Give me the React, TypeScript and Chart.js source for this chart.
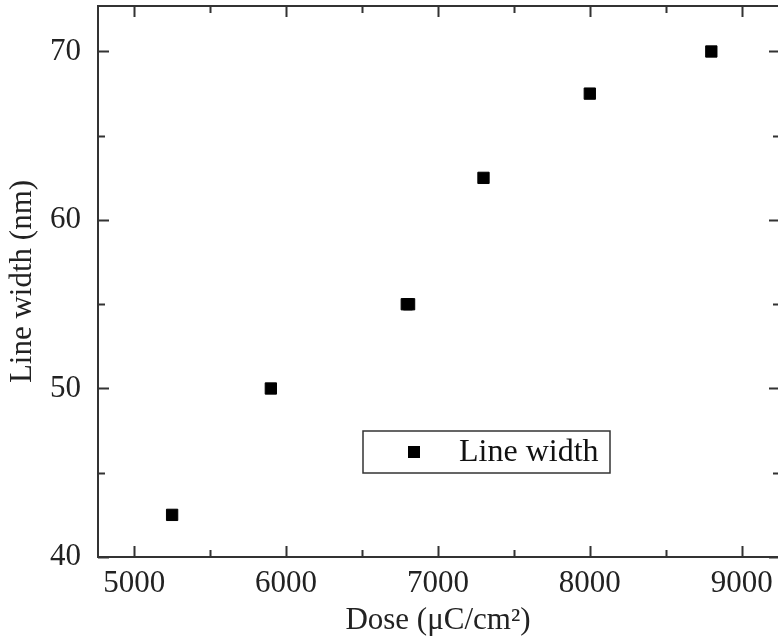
import React, { useEffect, useRef } from 'react';
import { Chart, registerables } from 'chart.js';

Chart.register(...registerables);

const seriesLabel = 'Line width';
const doseValues = [5250, 5900, 6795, 6810, 7300, 8000, 8800];
const lineWidthValues = [42.5, 50, 55, 55, 62.5, 67.5, 70];
const xMajorTicks = [5000, 6000, 7000, 8000, 9000];
const xMinorTicks = [5500, 6500, 7500, 8500];
const yMajorTicks = [40, 50, 60, 70];
const yMinorTicks = [45, 55, 65];
const xTitle = 'Dose (\u03bcC/cm\u00b2)';
const yTitle = 'Line width (nm)';

const FONT = "'Liberation Serif', 'Times New Roman', serif";
const AXIS_COLOR = '#333333';

const framePlugin = {
  id: 'frameTicks',
  afterDraw(chart: any) {
    const { ctx, chartArea } = chart;
    const { left, right, top, bottom } = chartArea;
    const xs = chart.scales.x;
    const ys = chart.scales.y;
    ctx.save();
    ctx.strokeStyle = AXIS_COLOR;
    ctx.lineWidth = 2;
    ctx.beginPath();
    ctx.moveTo(right + 2, top);
    ctx.lineTo(left, top);
    ctx.lineTo(left, bottom);
    ctx.lineTo(right + 2, bottom);
    ctx.stroke();
    const major = 11;
    const minor = 7;
    ctx.beginPath();
    const vTick = (v: number, len: number) => {
      const px = Math.round(xs.getPixelForValue(v)) + 0.5;
      ctx.moveTo(px, bottom);
      ctx.lineTo(px, bottom - len);
      ctx.moveTo(px, top);
      ctx.lineTo(px, top + len);
    };
    const hTick = (v: number, len: number) => {
      const py = Math.round(ys.getPixelForValue(v)) + 0.5;
      ctx.moveTo(left, py);
      ctx.lineTo(left + len, py);
      ctx.moveTo(right + 2, py);
      ctx.lineTo(right + 2 - len, py);
    };
    xMajorTicks.forEach((v) => vTick(v, major));
    xMinorTicks.forEach((v) => vTick(v, minor));
    yMajorTicks.forEach((v) => hTick(v, major));
    yMinorTicks.forEach((v) => hTick(v, minor));
    ctx.stroke();

    const bx = left + 265;
    const by = top + 425;
    const bw = 247;
    const bh = 42;
    ctx.lineWidth = 1.5;
    ctx.strokeStyle = AXIS_COLOR;
    ctx.fillStyle = '#ffffff';
    ctx.fillRect(bx, by, bw, bh);
    ctx.strokeRect(bx, by, bw, bh);
    ctx.fillStyle = '#000000';
    ctx.fillRect(bx + 45, by + 15, 12, 12);
    ctx.font = `32px ${FONT}`;
    ctx.textBaseline = 'middle';
    ctx.textAlign = 'left';
    ctx.fillStyle = '#111111';
    ctx.fillText(chart.data.datasets[0].label, bx + 96, by + bh / 2 + 1);
    ctx.restore();
  },
};

export default function App() {
  const ref = useRef<HTMLCanvasElement | null>(null);

  useEffect(() => {
    document.body.style.margin = '0';
    document.body.style.overflow = 'hidden';
    const canvas = ref.current;
    if (!canvas) return;
    const chart = new Chart(canvas, {
      type: 'scatter',
      data: {
        datasets: [
          {
            label: seriesLabel,
            data: doseValues.map((x, i) => ({ x, y: lineWidthValues[i] })),
            pointStyle: 'rect',
            pointRadius: 8,
            pointHoverRadius: 8,
            backgroundColor: '#000000',
            borderColor: '#000000',
            borderWidth: 1,
          },
        ],
      },
      options: {
        responsive: false,
        animation: false,
        events: [],
        layout: { autoPadding: false, padding: { top: 6, right: 0, left: 0, bottom: 0 } },
        plugins: {
          legend: { display: false },
          tooltip: { enabled: false },
        },
        scales: {
          x: {
            type: 'linear',
            min: 4762,
            max: 9239,
            grid: { display: false, drawTicks: false },
            border: { display: false },
            afterBuildTicks: (scale: any) => {
              scale.ticks = xMajorTicks.map((value) => ({ value }));
            },
            afterFit: (scale: any) => {
              scale.height = 81;
              scale.paddingLeft = 0;
              scale.paddingRight = 0;
            },
            ticks: {
              padding: 8,
              color: '#222222',
              font: { family: FONT, size: 31 },
              maxRotation: 0,
              callback: (v: any) => String(v),
            },
            title: {
              display: true,
              text: xTitle,
              color: '#222222',
              font: { family: FONT, size: 31, lineHeight: 1 },
              padding: { top: 0, bottom: 2 },
            },
          },
          y: {
            type: 'linear',
            min: 40,
            max: 72.7,
            grid: { display: false, drawTicks: false },
            border: { display: false },
            afterBuildTicks: (scale: any) => {
              scale.ticks = yMajorTicks.map((value) => ({ value }));
            },
            afterFit: (scale: any) => {
              scale.width = 98;
              scale.paddingTop = 0;
              scale.paddingBottom = 0;
            },
            ticks: {
              padding: 17,
              color: '#222222',
              font: { family: FONT, size: 31 },
              callback: (v: any) => String(v),
            },
            title: {
              display: true,
              text: yTitle,
              color: '#222222',
              font: { family: FONT, size: 31, lineHeight: 1 },
              padding: { top: 7, bottom: 0 },
            },
          },
        },
      },
      plugins: [framePlugin],
    });
    return () => chart.destroy();
  }, []);

  return (
    <div style={{ width: 778, height: 638, overflow: 'hidden', background: '#fff' }}>
      <canvas ref={ref} width={778} height={638} style={{ width: 778, height: 638, display: 'block' }} />
    </div>
  );
}
